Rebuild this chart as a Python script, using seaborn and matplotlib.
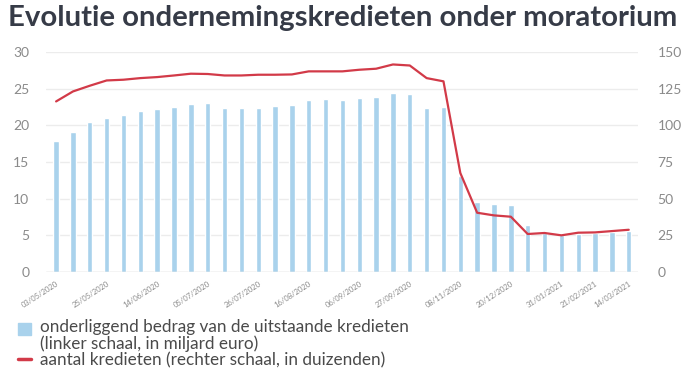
import matplotlib
matplotlib.use('Agg')
import matplotlib.pyplot as plt
import matplotlib.patches as mpatches
import matplotlib.lines as mlines
import pandas as pd
import seaborn as sns

# weekly / fortnightly observations (35 points)
amount_bn = [17.9, 19.1, 20.4, 20.95, 21.4, 22.0, 22.2, 22.55, 22.95, 23.0,
             22.4, 22.35, 22.35, 22.6, 22.8, 23.4, 23.6, 23.45, 23.7, 23.9,
             24.4, 24.3, 22.3, 22.55, 13.05, 9.6, 9.3, 9.2, 6.4, 5.3,
             5.1, 5.2, 5.3, 5.5, 5.6]
count_k = [116.3, 123.1, 127.0, 130.6, 131.1, 132.2, 132.9, 134.0, 135.2, 135.0,
           134.0, 134.0, 134.5, 134.5, 134.7, 136.8, 136.8, 136.8, 137.9, 138.6,
           141.5, 140.8, 132.2, 130.0, 67.5, 40.4, 38.6, 37.7, 25.9, 26.6,
           25.0, 26.8, 27.0, 27.9, 28.8]
tick_idx = [0, 3, 6, 9, 12, 15, 18, 21, 24, 27, 30, 32, 34]
tick_labels = ['03/05/2020', '25/05/2020', '14/06/2020', '05/07/2020', '26/07/2020',
               '16/08/2020', '06/09/2020', '27/09/2020', '08/11/2020', '20/12/2020',
               '31/01/2021', '21/02/2021', '14/03/2021']

bar_color = '#a9d2ec'
line_color = '#d23a48'
text_color = '#363b47'
tick_color = '#8a8a8a'

sns.set_theme(style='white')
plt.rcParams['font.family'] = ['Lato', 'DejaVu Sans']

df = pd.DataFrame({'idx': range(len(amount_bn)), 'amount': amount_bn, 'count': count_k})

fig = plt.figure(figsize=(7, 3.84), dpi=100)
ax = fig.add_axes([46 / 700, 1 - 272 / 384, (638 - 46) / 700, (272 - 52) / 384])

sns.barplot(data=df, x='idx', y='amount', color=bar_color, width=0.32,
            saturation=1, ax=ax, zorder=2)
ax.set_ylim(0, 30)
ax.set_yticks(range(0, 31, 5))
ax.set_xlim(-0.6, 34.55)
ax.grid(axis='y', color='#ececec', linewidth=1, zorder=0)
ax.set_axisbelow(True)

ax2 = ax.twinx()
sns.lineplot(data=df, x='idx', y='count', color=line_color, linewidth=1.6, ax=ax2)
ax2.set_ylim(0, 150)
ax2.set_yticks(range(0, 151, 25))
ax2.set_xlim(-0.6, 34.55)

for a in (ax, ax2):
    for s in a.spines.values():
        s.set_visible(False)
    a.set_xlabel('')
    a.set_ylabel('')
    a.tick_params(axis='y', length=0, colors=tick_color, labelsize=10)
ax.tick_params(axis='y', pad=12)
ax2.tick_params(axis='y', pad=14)
ax.axhline(0, color='#dcdcdc', linewidth=1, zorder=3)

ax.set_xticks(tick_idx)
ax.set_xticklabels(tick_labels, rotation=33, ha='right', rotation_mode='anchor',
                   fontsize=5.5, color=tick_color)
ax.tick_params(axis='x', length=0, pad=6)

fig.text(8 / 700, 1 - 18 / 384, 'Evolutie ondernemingskredieten onder moratorium',
         fontsize=21.2, fontweight='bold', color=text_color, va='center', ha='left')

# legend drawn by hand
fig.patches.append(mpatches.Rectangle((18 / 700, 1 - 335 / 384), 13 / 700, 12 / 384,
                                      transform=fig.transFigure, color=bar_color))
fig.lines.append(mlines.Line2D([18 / 700, 31 / 700], [1 - 359 / 384, 1 - 359 / 384],
                               transform=fig.transFigure, color=line_color, linewidth=2.5))
legend_lines = [(327, 'onderliggend bedrag van de uitstaande kredieten'),
                (344, '(linker schaal, in miljard euro)'),
                (360, 'aantal kredieten (rechter schaal, in duizenden)')]
for y, txt in legend_lines:
    fig.text(40 / 700, 1 - y / 384, txt, fontsize=12.3, color='#4a4a4a', va='center', ha='left')

fig.savefig('out.png', dpi=100)
